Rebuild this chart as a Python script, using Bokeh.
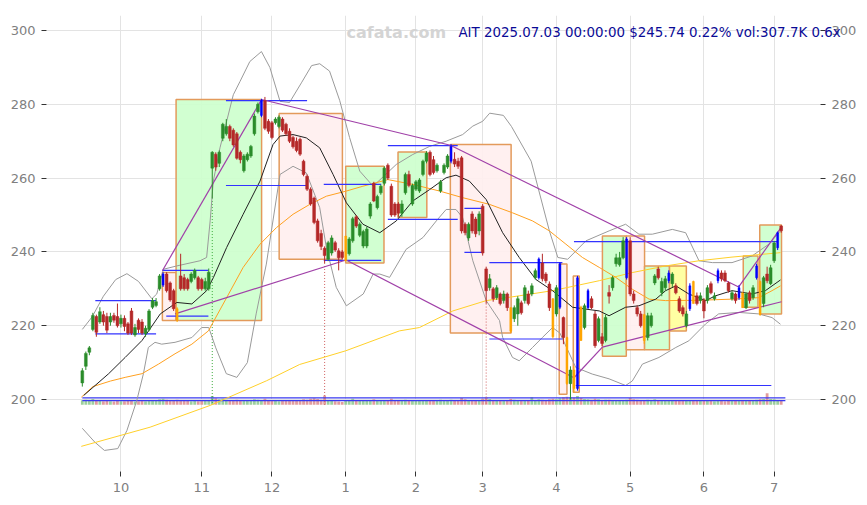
import pandas as pd
from bokeh.plotting import figure
from bokeh.models import Range1d, LinearAxis, FixedTicker, Label
from bokeh.embed import file_html
from bokeh.resources import INLINE

# ---------------- data ----------------
holidays = ["2024-11-28", "2024-12-25", "2025-01-01", "2025-01-09", "2025-01-20",
            "2025-02-17", "2025-04-18", "2025-05-26", "2025-06-19"]
dates = [d for d in pd.bdate_range("2024-09-16", "2025-07-03")
         if d.strftime("%Y-%m-%d") not in holidays]

opens = [204.5, 209.0, 212.8, 219.0, 222.5, 221.0, 223.0, 222.5, 221.0, 222.8,
         222.5, 220.5, 222.0, 220.5, 224.0, 217.5, 221.5, 221.0, 217.8, 219.0,
         225.0, 225.5, 230.0, 231.0, 234.0, 231.6, 229.5, 224.6, 233.5, 233.0,
         232.5, 232.0, 233.0, 233.0, 232.5, 230.0, 230.0, 262.7, 266.5, 264.0,
         270.8, 272.0, 274.0, 273.0, 272.0, 267.0, 262.0, 265.0, 266.0, 272.0,
         278.0, 277.0, 281.0, 275.4, 275.0, 275.0, 274.0, 276.0, 274.6, 272.7,
         271.0, 270.0, 270.5, 264.6, 260.5, 257.0, 254.6, 248.4, 245.0, 241.0,
         238.0, 239.7, 242.5, 240.3, 240.0, 237.6, 239.5, 243.0, 249.5, 244.5,
         241.6, 241.6, 249.7, 258.6, 252.0, 256.0, 258.6, 263.5, 257.8, 253.0,
         253.0, 250.5, 256.0, 261.0, 253.0, 257.0, 256.5, 261.0, 264.6, 267.0,
         265.0, 262.0, 256.5, 261.5, 263.0, 264.6, 265.1, 264.6, 265.5, 247.5,
         243.8, 250.3, 248.9, 245.7, 252.4, 235.4, 230.3, 230.0, 227.6, 228.6,
         226.8, 228.6, 224.9, 221.9, 223.2, 226.2, 226.8, 228.6, 228.6, 233.0,
         233.0, 237.0, 234.0, 231.3, 227.3, 223.2, 225.0, 222.2, 216.8, 204.3,
         208.0, 203.0, 225.0, 219.5, 224.9, 227.3, 223.2, 216.0, 217.0, 216.0,
         229.0, 230.3, 236.8, 236.5, 238.4, 233.0, 243.0, 228.6, 224.9, 223.2,
         223.0, 216.8, 220.0, 231.6, 235.4, 229.0, 230.3, 232.2, 231.4, 230.8,
         227.3, 224.9, 220.0, 224.6, 232.0, 228.1, 226.8, 226.8, 226.8, 231.4,
         227.3, 232.2, 234.3, 234.3, 231.6, 227.3, 228.6, 227.6, 228.9, 224.9,
         228.9, 227.6, 233.0, 232.0, 226.0, 234.0, 231.4, 237.6, 241.1, 247.0]
highs = [208.5, 213.0, 214.5, 223.5, 223.0, 225.0, 224.0, 223.5, 223.5, 223.5,
         226.0, 223.0, 222.8, 221.0, 224.8, 220.5, 222.0, 221.8, 220.0, 224.5,
         227.5, 227.5, 234.0, 234.5, 234.5, 232.0, 230.0, 225.0, 239.5, 234.0,
         233.0, 234.5, 235.5, 233.5, 233.0, 233.0, 235.5, 267.3, 267.0, 267.5,
         275.0, 276.0, 274.5, 273.5, 272.5, 267.5, 266.5, 267.0, 269.0, 277.5,
         280.5, 281.5, 282.0, 276.0, 275.5, 276.5, 277.0, 276.5, 275.0, 273.5,
         271.5, 271.0, 271.0, 265.0, 261.0, 257.5, 255.0, 249.0, 246.0, 241.5,
         243.0, 244.5, 243.0, 241.0, 240.5, 244.3, 244.0, 249.5, 250.0, 248.0,
         246.0, 246.8, 253.5, 259.0, 255.5, 258.2, 263.2, 264.0, 258.5, 253.5,
         253.5, 254.0, 261.5, 262.0, 258.5, 259.5, 260.0, 265.0, 267.3, 267.5,
         266.0, 264.0, 259.5, 264.0, 266.5, 269.2, 267.0, 265.5, 266.0, 248.0,
         248.0, 251.0, 249.5, 251.0, 253.0, 236.0, 234.0, 230.5, 231.0, 229.0,
         229.5, 229.0, 225.0, 225.5, 228.0, 226.8, 231.0, 229.5, 231.5, 235.5,
         238.5, 239.5, 234.5, 232.0, 227.5, 231.0, 237.2, 222.5, 217.0, 209.0,
         209.0, 233.5, 225.4, 226.0, 230.0, 228.0, 224.0, 222.5, 218.0, 223.0,
         231.0, 233.5, 239.5, 240.0, 244.0, 244.0, 244.0, 229.5, 225.5, 224.0,
         223.2, 223.5, 223.5, 234.0, 236.0, 233.0, 233.5, 235.0, 234.5, 231.5,
         228.0, 225.5, 224.0, 231.5, 232.2, 229.0, 229.0, 227.5, 231.0, 232.0,
         229.0, 235.5, 235.0, 235.0, 232.0, 229.5, 229.0, 231.0, 229.0, 229.0,
         229.5, 231.0, 236.8, 232.2, 233.5, 236.0, 236.5, 243.0, 245.5, 247.3]
lows = [203.5, 208.0, 212.0, 218.5, 217.0, 220.5, 220.0, 218.0, 220.0, 220.8,
        219.5, 219.5, 218.5, 217.5, 217.5, 217.0, 218.0, 217.5, 217.0, 218.5,
        224.5, 225.0, 229.5, 230.5, 229.0, 226.5, 224.0, 221.0, 229.5, 229.5,
        229.5, 231.5, 232.5, 229.5, 229.5, 229.5, 229.5, 254.6, 262.0, 263.0,
        270.0, 271.5, 270.0, 268.5, 265.0, 264.0, 261.5, 264.5, 265.5, 271.5,
        277.5, 276.5, 273.0, 272.0, 270.5, 274.5, 273.5, 272.5, 271.5, 269.5,
        268.0, 267.0, 266.0, 260.5, 256.5, 252.5, 247.5, 242.5, 240.5, 237.0,
        237.5, 239.0, 240.0, 235.0, 238.0, 237.5, 239.0, 242.5, 246.5, 244.0,
        241.0, 241.0, 249.0, 253.5, 251.5, 255.5, 258.0, 259.5, 249.5, 249.5,
        249.5, 249.5, 255.5, 257.5, 252.5, 256.5, 256.0, 260.5, 264.0, 260.5,
        261.0, 261.5, 256.0, 261.0, 262.5, 264.0, 263.0, 262.5, 245.0, 244.5,
        243.0, 245.0, 244.0, 244.5, 239.0, 226.0, 229.5, 226.5, 227.0, 225.5,
        226.0, 224.0, 218.0, 221.0, 220.0, 223.0, 226.0, 225.5, 228.0, 232.5,
        232.5, 232.0, 231.5, 224.0, 216.5, 222.5, 224.5, 215.0, 204.0, 200.0,
        201.9, 202.4, 215.9, 219.0, 224.5, 224.5, 214.0, 215.5, 214.5, 215.5,
        226.0, 229.5, 236.0, 236.0, 238.0, 232.5, 228.0, 226.0, 222.5, 219.5,
        215.1, 216.0, 219.5, 231.0, 232.5, 228.0, 229.5, 231.5, 230.5, 228.5,
        223.5, 222.5, 219.5, 224.0, 226.0, 225.5, 226.0, 222.0, 226.0, 228.5,
        226.8, 231.5, 232.0, 231.8, 229.0, 226.8, 226.0, 227.0, 224.9, 224.5,
        226.0, 227.0, 232.5, 222.7, 225.0, 231.5, 231.0, 237.0, 240.5, 245.2]
closes = [207.8, 212.5, 214.0, 222.8, 218.2, 223.8, 221.0, 218.8, 222.5, 221.5,
          220.0, 222.0, 219.8, 218.0, 218.0, 219.5, 219.0, 218.0, 219.3, 224.0,
          226.8, 226.5, 233.5, 234.0, 229.5, 227.0, 224.6, 221.5, 230.0, 230.0,
          230.0, 234.0, 235.0, 230.0, 230.0, 232.0, 234.5, 267.0, 263.0, 267.0,
          274.6, 274.0, 270.8, 269.0, 265.4, 265.0, 266.0, 266.5, 268.6, 276.8,
          280.0, 281.0, 273.5, 272.7, 271.0, 276.0, 276.5, 273.0, 272.0, 270.0,
          268.5, 267.5, 266.5, 261.0, 257.0, 253.0, 248.0, 243.0, 241.5, 239.0,
          242.5, 243.8, 240.5, 238.4, 238.5, 244.3, 243.5, 249.0, 247.0, 247.5,
          245.5, 246.2, 253.0, 253.8, 255.0, 257.8, 262.7, 260.0, 250.0, 250.0,
          250.5, 253.0, 261.0, 258.0, 258.0, 259.0, 259.5, 264.6, 266.8, 261.0,
          261.5, 263.5, 259.0, 263.5, 266.0, 268.6, 263.8, 263.2, 245.7, 245.2,
          247.5, 245.7, 244.9, 250.3, 239.7, 229.5, 232.7, 227.3, 230.3, 226.0,
          228.6, 224.9, 218.5, 224.9, 227.3, 223.5, 230.3, 226.0, 230.8, 234.9,
          238.1, 232.7, 232.2, 224.9, 217.0, 230.3, 236.8, 216.8, 204.3, 208.0,
          203.0, 233.0, 216.0, 225.4, 229.5, 224.9, 214.6, 221.9, 215.2, 222.2,
          228.0, 233.0, 238.4, 238.4, 243.0, 243.5, 228.6, 226.8, 223.2, 220.0,
          216.0, 222.7, 222.7, 233.5, 233.0, 232.0, 232.7, 234.3, 234.0, 228.9,
          224.0, 223.2, 223.2, 230.8, 226.0, 226.0, 228.1, 224.0, 230.3, 228.9,
          228.1, 234.9, 232.7, 232.2, 229.5, 228.9, 226.8, 230.3, 224.9, 228.6,
          226.8, 230.3, 236.2, 223.0, 233.0, 232.2, 235.7, 242.4, 245.2, 245.74]
# volume in thousands of shares
volumes = [320, 350, 280, 410, 300, 260, 240, 280, 250, 230,
           260, 240, 250, 270, 300, 230, 250, 260, 240, 310,
           330, 280, 380, 420, 350, 330, 300, 360, 300, 280,
           260, 250, 270, 240, 300, 280, 330, 620, 450, 380,
           420, 360, 330, 310, 350, 300, 290, 270, 300, 380,
           360, 330, 420, 340, 300, 260, 250, 270, 280, 260,
           300, 320, 330, 380, 350, 420, 450, 400, 360, 650,
           330, 300, 250, 230, 200, 280, 300, 420, 310, 280,
           300, 290, 340, 380, 300, 280, 320, 300, 420, 330,
           300, 280, 350, 300, 290, 270, 260, 300, 320, 330,
           300, 280, 350, 300, 320, 360, 300, 290, 480, 380,
           330, 340, 320, 300, 420, 520, 400, 340, 300, 330,
           300, 310, 400, 350, 330, 300, 310, 320, 520, 330,
           380, 350, 330, 380, 420, 380, 450, 520, 560, 520,
           500, 620, 480, 400, 380, 360, 420, 380, 330, 350,
           360, 330, 340, 310, 320, 350, 480, 380, 350, 330,
           340, 360, 300, 380, 320, 300, 280, 270, 300, 280,
           300, 280, 320, 300, 290, 270, 300, 280, 260, 270,
           250, 280, 260, 250, 300, 280, 260, 300, 310, 290,
           300, 330, 350, 380, 400, 800, 400, 380, 300, 307.7]
vol_levels = [292, 488]

blue_idx = [23, 51, 105, 130, 136, 141, 144, 155, 167, 173, 181, 187, 192, 198]
orange_idx = [27, 75, 122, 134, 138, 140, 142, 160, 174, 188, 193]

# boxes: left idx, right idx, bottom, top, kind
box_left = [22.8, 26.7, 56.05, 75.0, 89.9, 104.8, 135.8, 139.8, 148.1, 154.9, 160.1, 167.2, 188.2, 192.9]
box_right = [26.7, 51.05, 74.06, 85.9, 98.1, 122.1, 138.0, 141.5, 154.9, 160.1, 167.2, 172.0, 192.4, 199.1]
box_bottom = [221.4, 221.4, 238.0, 237.0, 249.3, 218.0, 201.4, 202.0, 211.7, 213.5, 213.5, 218.6, 225.0, 223.2]
box_top = [234.4, 281.3, 277.5, 263.2, 267.1, 269.1, 236.7, 233.5, 244.3, 244.3, 236.2, 236.2, 238.9, 247.3]
box_kind = ["down", "up", "down", "up", "up", "down", "down", "down", "up", "down", "up", "flat", "up", "up"]

# blue horizontal levels
lvl_x0 = [3.7, 3.7, 22.8, 23.9, 40.9, 40.9, 68.75, 68.75, 87.0, 87.0, 108.8, 108.8, 115.9, 115.9, 140.0, 140.5]
lvl_x1 = [21.0, 21.0, 35.9, 35.9, 64.0, 64.0, 85.1, 85.1, 106.9, 106.9, 114.0, 114.0, 136.7, 136.7, 197.8, 196.2]
lvl_y = [226.8, 217.8, 235.0, 222.6, 281.0, 258.0, 258.3, 237.7, 268.8, 248.8, 251.8, 239.9, 237.1, 216.4, 242.8, 203.8]

# purple trend lines
tr_x0 = [22.8, 51.05, 104.8, 26.4, 75.1, 140.0, 148.1, 186.9]
tr_y0 = [234.9, 281.3, 268.9, 223.2, 237.8, 205.9, 214.2, 230.5]
tr_x1 = [51.05, 104.8, 186.9, 75.1, 140.0, 148.1, 199.1, 199.1]
tr_y1 = [281.3, 268.9, 230.5, 237.8, 205.9, 214.2, 226.5, 246.8]

# signal days (dotted verticals)
sig_idx = [37, 69, 115]
sig_kind = ["buy", "sell", "sell"]

# indicator lines (index, price)
ma_s_x = [0.4, 7.5, 12.2, 17, 22.2, 26.9, 31.2, 35.4, 37.3, 41.1, 45.8, 50.6, 54.3, 56.3, 60, 63.8,
          67.6, 71.4, 75.2, 79.9, 84.7, 89.4, 94.1, 98.9, 103.6, 106.4, 110.2, 115, 119.7, 124.4,
          129.2, 133.9, 139.6, 143.4, 147.2, 150, 154.7, 158.5, 163.3, 166.1, 169, 172.7, 177.5,
          180.3, 185, 190.7, 194.5, 198.8]
ma_s_y = [201.1, 207.0, 211.4, 216.0, 223.2, 226.3, 225.9, 229.5, 233.0, 241.2, 250.2, 259.2, 269.1,
          271.4, 271.8, 270.9, 268.2, 261.0, 253.3, 247.5, 245.2, 248.4, 253.8, 256.9, 260.1, 260.8,
          259.2, 254.2, 245.2, 238.5, 232.5, 229.5, 225.0, 224.5, 224.0, 222.7, 225.0, 225.4, 227.2,
          229.5, 230.8, 228.6, 226.8, 228.1, 229.5, 228.6, 229.5, 232.4]
ma_m_x = [-0.3, 3, 8, 12.2, 17, 21.7, 26.4, 31.2, 35.9, 41.1, 45.8, 50.6, 55.3, 60, 64.8, 69.5, 75.2,
          79.9, 87, 94.1, 101.7, 108.3, 115.9, 122.5, 128.2, 133, 137.7, 142.4, 147.2, 151.9, 156.6,
          161.4, 166.1, 175.6, 185, 192.6, 196.4, 198.8]
ma_m_y = [200.6, 203.5, 205.0, 206.0, 207.0, 209.6, 212.4, 215.0, 218.6, 227.6, 235.8, 242.1, 246.6,
          250.2, 252.9, 255.1, 256.5, 257.8, 259.6, 258.3, 256.5, 254.7, 252.9, 250.6, 248.4, 245.7,
          242.1, 238.5, 235.8, 233.1, 229.9, 227.2, 226.8, 226.9, 227.2, 227.6, 229.5, 230.8]
ma_l_x = [-0.3, 19.3, 36.4, 52.5, 61.9, 75, 90.3, 96, 105.5, 115, 124.4, 133.9, 147.2, 156.6, 166.1,
          175.6, 185, 198.8]
ma_l_y = [187.3, 192.5, 198.4, 205.1, 209.5, 213.2, 218.6, 219.5, 224.0, 226.8, 228.1, 229.5, 232.2,
          234.4, 236.2, 237.6, 238.6, 239.8]
bb_up_x = [0, 2.8, 6, 9.5, 12.7, 16, 19.8, 21.2, 23.1, 26.9, 33.5, 35.4, 36.4, 37.3, 39.2, 41.1, 43,
           44.9, 47.7, 51, 53.4, 56.3, 59, 62.5, 65.3, 67.6, 70.4, 73.3, 76.1, 79, 82.8, 89.4, 94.1,
           98.9, 103.6, 108.3, 111.2, 114, 116, 119.9, 122.2, 127.8, 133, 135.4, 138.2, 143.4, 150,
           154.7, 158.5, 162.3, 168, 171.8, 175.6, 179.4, 185, 190.7, 195.5, 198.8]
bb_up_y = [219.0, 222.4, 228.0, 232.5, 234.1, 232.0, 227.3, 228.6, 235.3, 236.2, 237.6, 238.5, 248.4,
           259.2, 268.2, 275.4, 282.6, 286.2, 291.6, 294.3, 290.0, 280.8, 280.5, 286.0, 290.5, 291.0,
           289.0, 281.0, 271.0, 261.9, 257.8, 263.7, 266.4, 268.6, 270.0, 271.8, 274.1, 275.4, 277.6,
           277.0, 274.0, 264.6, 245.7, 238.5, 238.0, 243.0, 245.7, 247.5, 244.8, 244.8, 246.1, 245.2,
           237.6, 237.1, 237.1, 238.9, 242.1, 245.7]
bb_lo_x = [0, 3.5, 6.3, 10.1, 12.7, 15.5, 17.4, 18.8, 20.7, 22.6, 26.4, 31.2, 34, 36, 38, 41, 44, 47,
           49.5, 52.4, 56.3, 60, 63.8, 67.6, 69.5, 72.3, 75.2, 80, 82.8, 84.7, 87.5, 92.2, 97, 100.8,
           103.6, 106.4, 108.3, 111.2, 115, 118.8, 119.7, 122.5, 124.4, 128.2, 131, 133.9, 136, 140.5,
           145.2, 150, 154.7, 156.6, 159.5, 164.2, 169, 172.7, 177.5, 181.2, 187, 192.6, 196.4, 198.8]
bb_lo_y = [192.2, 188.5, 186.2, 186.7, 191.6, 199.7, 207.0, 214.1, 215.5, 215.0, 215.5, 216.8, 219.5,
           219.5, 214.0, 207.0, 206.0, 210.0, 223.2, 236.7, 261.0, 263.2, 261.4, 252.0, 241.2, 230.4,
           225.4, 228.6, 234.0, 234.0, 233.1, 240.7, 243.9, 248.4, 251.5, 251.5, 249.3, 237.6, 226.8,
           221.4, 216.8, 211.4, 210.5, 214.1, 216.8, 219.5, 218.0, 208.7, 206.9, 205.6, 203.8, 205.0,
           209.6, 211.4, 214.1, 215.9, 220.5, 223.2, 223.6, 223.2, 222.2, 220.4]

title_text = "AIT 2025.07.03 00:00:00 $245.74 0.22% vol:307.7K 0.6x"
watermark = "cafata.com"

# ---------------- figure ----------------
FONT = "DejaVu Sans"
p = figure(width=859, height=497, output_backend="svg", toolbar_location=None,
           x_range=Range1d(-10.2, 210.2), y_range=Range1d(180.49, 304.07),
           min_border_left=46, min_border_right=37, min_border_top=10, min_border_bottom=26)
p.outline_line_color = None
p.background_fill_color = "white"
p.grid.grid_line_color = "#E3E3E3"
p.grid.grid_line_width = 1

n = len(closes)
xs = list(range(n))

month_ticks, month_labels = [], {}
for i in range(1, n):
    if dates[i].month != dates[i - 1].month:
        month_ticks.append(i)
        month_labels[i] = str(dates[i].month)
p.xaxis.ticker = FixedTicker(ticks=month_ticks)
p.xgrid.ticker = FixedTicker(ticks=month_ticks)
p.xaxis.major_label_overrides = month_labels

yticks = [200, 220, 240, 260, 280, 300]
p.yaxis.ticker = FixedTicker(ticks=yticks)
p.ygrid.ticker = FixedTicker(ticks=yticks)
right = LinearAxis(ticker=FixedTicker(ticks=yticks))
p.add_layout(right, "right")

for ax in p.axis:
    ax.axis_line_color = None
    ax.major_tick_line_color = "#333333"
    ax.major_tick_out = 5
    ax.major_tick_in = 0
    ax.minor_tick_line_color = None
    ax.major_label_text_color = "#7F7F7F"
    ax.major_label_text_font = FONT
    ax.major_label_text_font_size = "13px"
    ax.major_label_standoff = 6

# boxes
box_fill = {"up": "#CCFFCC", "down": "#FFEEEE", "flat": "#FFFF99"}
p.quad(left=box_left, right=box_right, bottom=box_bottom, top=box_top,
       fill_color=[box_fill[k] for k in box_kind], fill_alpha=0.9,
       line_color="#E39A5B", line_width=1.5)

# volume
vol_base, vol_scale = 198.57, 1.16 / 300.0
up = [closes[i] >= opens[i] for i in range(n)]
p.vbar(x=xs, width=0.8, bottom=vol_base, top=[vol_base + v * vol_scale for v in volumes],
       fill_color=["#8CC88C" if u else "#DC8C8C" for u in up], line_color=None, fill_alpha=0.85)
for lv in vol_levels:
    p.line([0, n + 0.2], [vol_base + lv * vol_scale] * 2, color="#3A3AF0", line_width=1.2)

# signal dotted verticals
for k, i in enumerate(sig_idx):
    p.line([i, i], [lows[i], vol_base], color="#3CAA3C" if sig_kind[k] == "buy" else "#D06060",
           line_width=1, line_dash="1 2")

# indicator lines
p.line(bb_up_x, bb_up_y, color="#9A9A9A", line_width=1)
p.line(bb_lo_x, bb_lo_y, color="#9A9A9A", line_width=1)
p.line(ma_l_x, ma_l_y, color="#FFD02A", line_width=1)
p.line(ma_m_x, ma_m_y, color="#FFA020", line_width=1)
p.line(ma_s_x, ma_s_y, color="#222222", line_width=1)

# levels and trend lines
p.segment(x0=lvl_x0, y0=lvl_y, x1=lvl_x1, y1=lvl_y, color="#3333FF", line_width=1.2)
p.segment(x0=tr_x0, y0=tr_y0, x1=tr_x1, y1=tr_y1, color="#A040A8", line_width=1.2)

# candles
def ccolor(i):
    if i in blue_idx:
        return "#0000FF"
    if i in orange_idx:
        return "#FFA500"
    return "#2A8C2A" if closes[i] >= opens[i] else "#B42828"

cols = [ccolor(i) for i in xs]
widths = [0.55 if (i in blue_idx or i in orange_idx) else 0.8 for i in xs]
p.segment(x0=xs, y0=highs, x1=xs, y1=lows, color=cols, line_width=1)
p.vbar(x=xs, width=widths, top=[max(opens[i], closes[i]) for i in xs],
       bottom=[min(opens[i], closes[i]) for i in xs], fill_color=cols, line_color=cols, line_width=0.5)

# texts (title label lives in the top side panel so it is not clipped at the frame edge)
p.add_layout(Label(x=75.2, y=299.4, text=watermark, text_font=FONT, text_font_size="16px",
                   text_font_style="bold", text_color="#D4D4D4", text_baseline="alphabetic"))
p.add_layout(Label(x=107.1, y=299.4, text=title_text, text_font=FONT, text_font_size="13.4px",
                   text_color="#0A0A96", text_baseline="alphabetic"), "above")

open("out.html", "w").write(file_html(p, INLINE))
